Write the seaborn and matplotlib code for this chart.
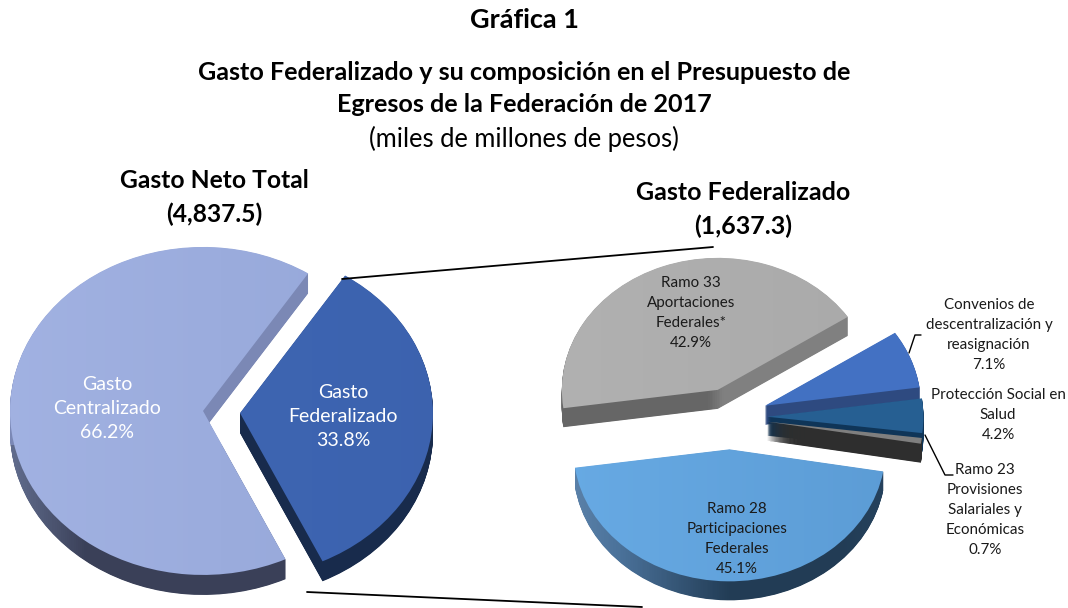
import matplotlib.pyplot as plt
import numpy as np
import seaborn as sns
from matplotlib.lines import Line2D
from matplotlib.colors import to_rgb

sns.set_theme(style="white")
plt.rcParams["font.family"] = ["Lato", "DejaVu Sans"]

W, H = 1068, 608
L = 1.7
X = 1.4

neto_labels = ["Gasto\nCentralizado", "Gasto\nFederalizado"]
neto_values = [66.2, 33.8]

fed_labels = [
    "Ramo 28\nParticipaciones\nFederales",
    "Ramo 23\nProvisiones\nSalariales y\nEconómicas",
    "Protección Social en\nSalud",
    "Convenios de\ndescentralización y\nreasignación",
    "Ramo 33\nAportaciones\nFederales*",
]
fed_values = [45.1, 0.7, 4.2, 7.1, 42.9]

neto_style = [
    dict(top=["#a3b3e3", "#93a5d7"], side=["#8090b8", "#3a4058", "#3a4058", "#3a4058", "#454c66"], cut="#7b88b5", order=0),
    dict(top=["#3f68b5", "#3c62ae"], side=["#182b4c", "#182b4c"], cut="#182b4c", order=1),
]
fed_style = [
    dict(top=["#69ace6", "#5a9ad3"], side=["#7096bd", "#4a7199", "#223c55", "#223c55", "#2a4a68"], cut="#223c55", order=4),
    dict(top=["#7f7f7f", "#7f7f7f"], side=["#2e2e2e", "#2e2e2e"], cut="#2e2e2e", order=3),
    dict(top=["#265f92", "#265f92"], side=["#0f3558", "#0f3558"], cut="#0f3558", order=2),
    dict(top=["#4070c0", "#4472c4"], side=["#2e4a80", "#2e4a80"], cut="#2e4a80", order=1),
    dict(top=["#b2b2b2", "#a8a8a8"], side=["#666666"] * 14 + ["#808080"] * 16, cut=None, order=0),
]


def fx(x):
    return x / W


def fy(y):
    return 1 - y / H


def gradient(colors, cut=None):
    row = np.array(sns.blend_palette(colors, n_colors=256))[:, :3]
    upper = row if cut is None else np.tile(to_rgb(cut), (256, 1))
    return np.stack([row, upper])


def draw_pie(values, styles, explode, start, cx, cy, rx, ry, depth):
    ax = fig.add_axes([fx(cx - L * rx), fy(cy + L * ry), 2 * L * rx / W, 2 * L * ry / H])
    for d in np.arange(depth, -0.5, -0.5):
        wedges, _ = ax.pie(
            values,
            explode=explode,
            startangle=start,
            center=(0, -d / ry),
            radius=1,
            wedgeprops={"linewidth": 0},
        )
        for wedge, st in zip(wedges, styles):
            z = st["order"] * 100 + depth - d
            img = gradient(st["top"]) if d == 0 else gradient(st["side"], st["cut"])
            wedge.set_facecolor("none")
            wedge.set_zorder(z)
            im = ax.imshow(
                img,
                extent=[-X, X, -2.0, 1.6],
                origin="lower",
                aspect="auto",
                interpolation="nearest",
                zorder=z,
            )
            im.set_clip_path(wedge)
    ax.set_aspect("auto")
    ax.set_xlim(-L, L)
    ax.set_ylim(-L, L)
    ax.set_axis_off()
    return ax


def line(xs, ys, lw=1.3):
    fig.add_artist(
        Line2D([fx(x) for x in xs], [fy(y) for y in ys], color="black", lw=lw, transform=fig.transFigure)
    )


def label(x, y, text, size=10.9, color="#1a1a1a", weight="normal", spacing=1.54):
    fig.text(fx(x), fy(y), text, ha="center", va="center", fontsize=size, color=color, weight=weight, linespacing=spacing)


fig = plt.figure(figsize=(W / 100, H / 100), dpi=100)

draw_pie(neto_values, neto_style, [0.096, 0.096], 57, 221.5, 412, 193, 164, 20)
draw_pie(fed_values, fed_style, [0.245, 0.24, 0.24, 0.24, 0.22], 188, 730, 417, 156, 132, 19)

label(524, 20, "Gráfica 1", size=19.5, color="black", weight="bold")
label(524, 73, "Gasto Federalizado y su composición en el Presupuesto de", size=18.1, color="black", weight="bold")
label(524, 105, "Egresos de la Federación de 2017", size=18.1, color="black", weight="bold")
label(524, 139, "(miles de millones de pesos)", size=18.4, color="black")
label(214, 181, "Gasto Neto Total", size=17.7, color="black", weight="bold")
label(214, 214, "(4,837.5)", size=17.7, color="black", weight="bold")
label(743, 192, "Gasto Federalizado", size=18, color="black", weight="bold")
label(743, 226, "(1,637.3)", size=18, color="black", weight="bold")

label(107, 408, f"{neto_labels[0]}\n{neto_values[0]}%", size=14, color="white", spacing=1.5)
label(343, 417, f"{neto_labels[1]}\n{neto_values[1]}%", size=14, color="white", spacing=1.5)

label(737, 539, f"{fed_labels[0]}\n{fed_values[0]}%")
label(985, 510, f"{fed_labels[1]}\n{fed_values[1]}%")
label(998, 415, f"{fed_labels[2]}\n{fed_values[2]}%")
label(989, 335, f"{fed_labels[3]}\n{fed_values[3]}%")
label(691, 313, f"{fed_labels[4]}\n{fed_values[4]}%")

line([342, 713], [279, 247])
line([307, 642], [592, 607])
line([909, 915, 921], [353, 335, 335], lw=1)
line([925, 945, 953], [435, 475, 475], lw=1)

fig.savefig("out.png", dpi=100)
